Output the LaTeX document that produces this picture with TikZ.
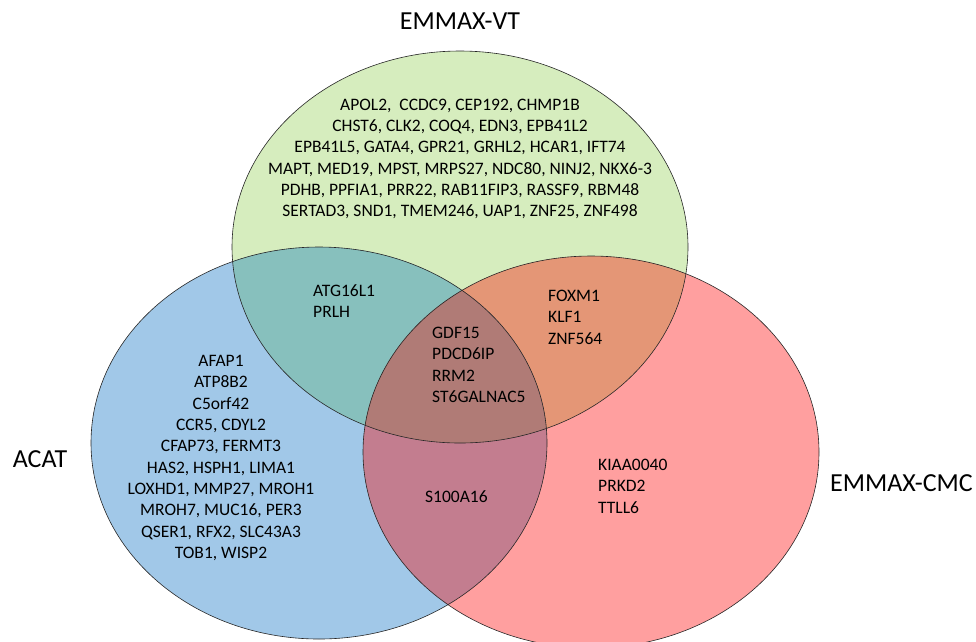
\documentclass[tikz,border=0pt]{standalone}
\usepackage{fontspec}
\setmainfont{Carlito}
\usepackage{tikz}

\definecolor{vtcol}{RGB}{214,237,190}
\definecolor{acatcol}{RGB}{161,200,232}
\definecolor{cmccol}{RGB}{255,159,159}
\definecolor{vtacatcol}{RGB}{135,192,189}
\definecolor{vtcmccol}{RGB}{228,150,118}
\definecolor{acatcmccol}{RGB}{195,125,143}
\definecolor{allcol}{RGB}{176,123,118}

\begin{document}
\begin{tikzpicture}[x=1pt,y=-1pt,
    setshape/.style={x radius=228pt, y radius=196pt},
    setline/.style={draw=black!85, line width=0.6pt},
    genes/.style={inner sep=0pt, font=\fontsize{17.5}{21.3}\selectfont},
    setname/.style={inner sep=0pt, font=\fontsize{26}{30}\selectfont}]
            \useasboundingbox (0,0) rectangle (976,641);
            \coordinate (vt) at (460,247);
            \coordinate (acat) at (319,443);
            \coordinate (cmc) at (591,452);

            \fill[vtcol] (vt) ellipse [setshape];
            \fill[acatcol] (acat) ellipse [setshape];
            \fill[cmccol] (cmc) ellipse [setshape];
            \begin{scope}
                \clip (vt) ellipse [setshape];
                \fill[vtacatcol] (acat) ellipse [setshape];
                \fill[vtcmccol] (cmc) ellipse [setshape];
            \end{scope}
            \begin{scope}
                \clip (acat) ellipse [setshape];
                \fill[acatcmccol] (cmc) ellipse [setshape];
                \clip (cmc) ellipse [setshape];
                \fill[allcol] (vt) ellipse [setshape];
            \end{scope}
            \draw[setline] (vt) ellipse [setshape];
            \draw[setline] (acat) ellipse [setshape];
            \draw[setline] (cmc) ellipse [setshape];

            \node[setname] (vtname) at (460,21) {EMMAX-VT};
            \node[setname] (acatname) at (40,459) {ACAT};
            \node[setname, anchor=east] (cmcname) at (973,483) {EMMAX-CMC};

            \node[genes, align=center] (vtonly) at (460,159) {APOL2,\ \ CCDC9, CEP192, CHMP1B\\CHST6, CLK2, COQ4, EDN3, EPB41L2\\EPB41L5, GATA4, GPR21, GRHL2, HCAR1, IFT74\\MAPT, MED19, MPST, MRPS27, NDC80, NINJ2, NKX6-3\\PDHB, PPFIA1, PRR22, RAB11FIP3, RASSF9, RBM48\\SERTAD3, SND1, TMEM246, UAP1, ZNF25, ZNF498};
            \node[genes, align=center] (acatonly) at (221,458) {AFAP1\\ATP8B2\\C5orf42\\CCR5, CDYL2\\CFAP73, FERMT3\\HAS2, HSPH1, LIMA1\\LOXHD1, MMP27, MROH1\\MROH7, MUC16, PER3\\QSER1, RFX2, SLC43A3\\TOB1, WISP2};
            \node[genes, align=left, anchor=north west] (vtacat) at (313,284) {ATG16L1\\PRLH};
            \node[genes, align=left, anchor=north west] (vtcmc) at (548,290) {FOXM1\\KLF1\\ZNF564};
            \node[genes, align=left, anchor=north west] (allsets) at (432,327) {GDF15\\PDCD6IP\\RRM2\\ST6GALNAC5};
            \node[genes, align=left, anchor=north west] (acatcmc) at (425,490) {S100A16};
            \node[genes, align=left, anchor=north west] (cmconly) at (598,459) {KIAA0040\\PRKD2\\TTLL6};
\end{tikzpicture}
\end{document}
